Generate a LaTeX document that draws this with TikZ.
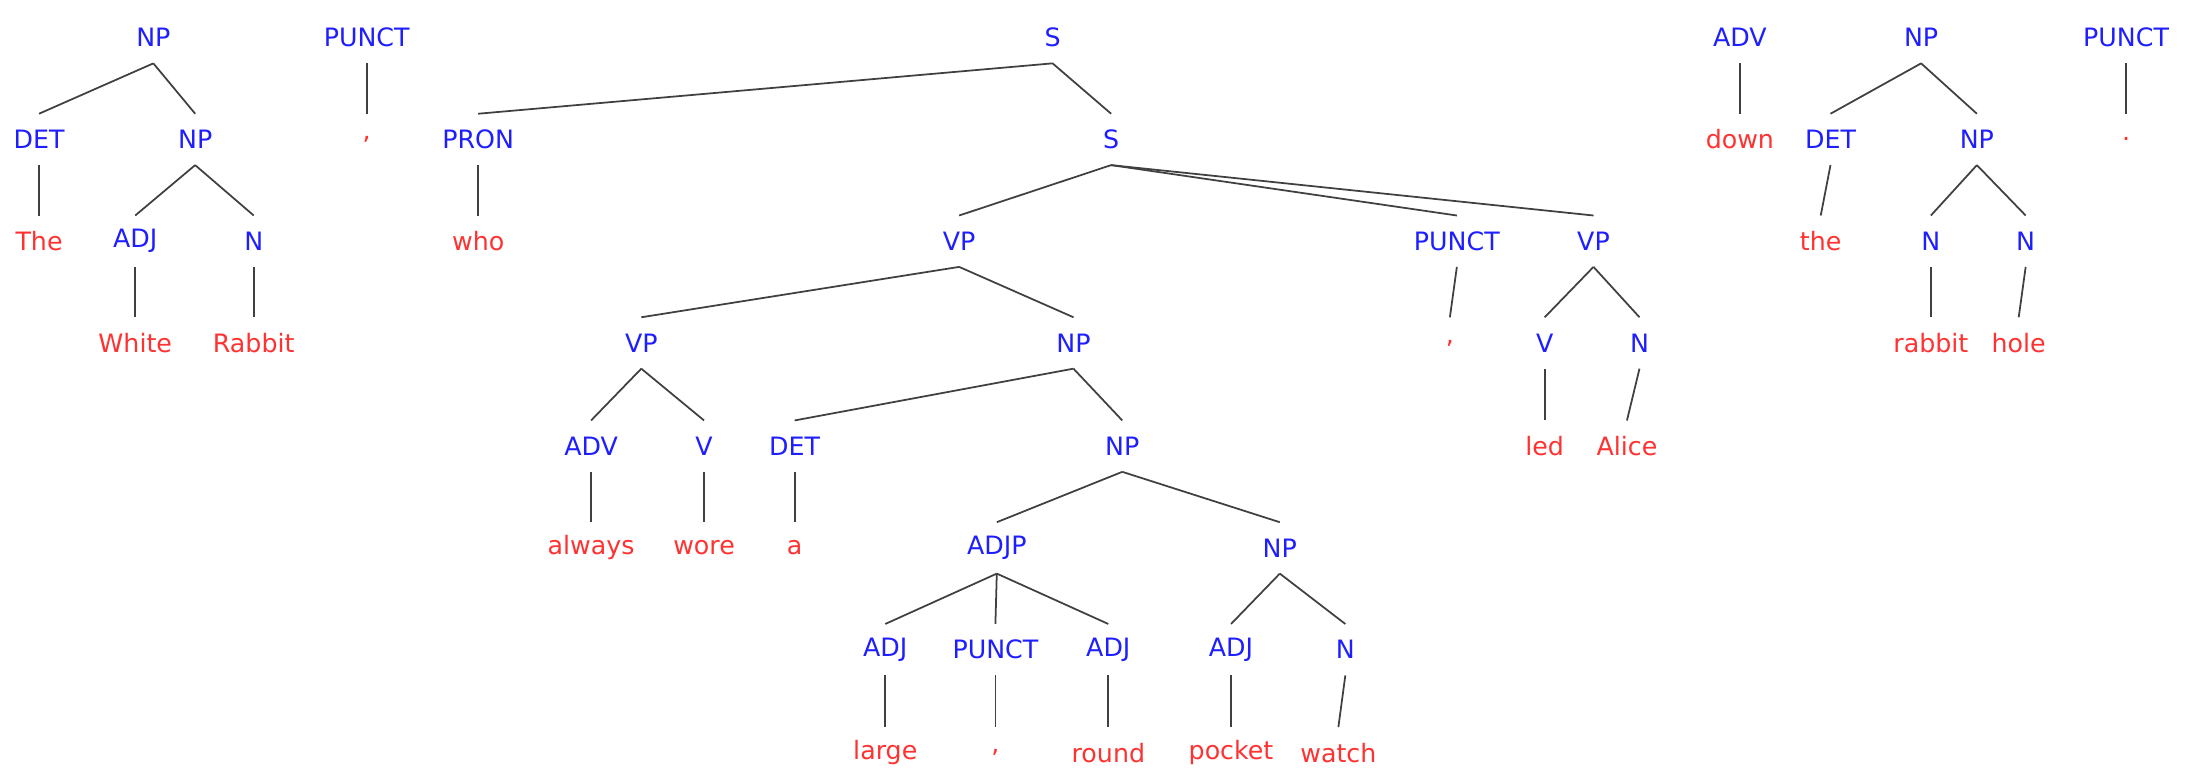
\documentclass[tikz,border=0pt]{standalone}
\usepackage{fontspec}
\setmainfont{DejaVu Sans}
\definecolor{tagblue}{RGB}{30,30,255}
\definecolor{wordred}{RGB}{255,50,50}
\begin{document}
\begin{tikzpicture}[x=0.01394cm,y=-0.01394cm,
    tag/.style={text=tagblue,font=\fontsize{7.2}{8}\selectfont,inner sep=0pt,minimum height=0.5cm},
    word/.style={text=wordred,font=\fontsize{7.2}{8}\selectfont,inner sep=0pt,minimum height=0.5cm},
    edge/.style={draw=black!75,line width=0.5pt}]
    % bounding box
    \useasboundingbox (0,0) rectangle (1568,561);
    % The White Rabbit
    \node[tag] (np1) at (110,27) {NP};
    \node[tag] (det1) at (28,100) {DET};
    \node[tag] (np2) at (140,100) {NP};
    \node[word] (the1) at (28,173) {The};
    \node[tag] (adj1) at (97,173) {ADJ};
    \node[tag] (n1) at (182,173) {N};
    \node[word] (white) at (97,246) {White};
    \node[word] (rabbit1) at (182,246) {Rabbit};
    \node[tag] (punct1) at (263,27) {PUNCT};
    \node[word] (comma1) at (263,100) {,};
    % relative clause
    \node[tag] (s1) at (755,27) {S};
    \node[tag] (pron) at (343,100) {PRON};
    \node[word] (who) at (343,173) {who};
    \node[tag] (s2) at (797,100) {S};
    \node[tag] (vp1) at (688,173) {VP};
    \node[tag] (punct2) at (1045,173) {PUNCT};
    \node[tag] (vp2) at (1143,173) {VP};
    \node[tag] (vp3) at (460,246) {VP};
    \node[tag] (np3) at (770,246) {NP};
    \node[tag] (adv1) at (424,320) {ADV};
    \node[tag] (v1) at (505,320) {V};
    \node[word] (always) at (424,393) {always};
    \node[word] (wore) at (505,393) {wore};
    \node[tag] (det2) at (570,320) {DET};
    \node[word] (a) at (570,393) {a};
    \node[tag] (np4) at (805,320) {NP};
    \node[tag] (adjp) at (715,393) {ADJP};
    \node[tag] (np5) at (918,393) {NP};
    \node[tag] (adj2) at (635,466) {ADJ};
    \node[tag] (punct3) at (714,466) {PUNCT};
    \node[tag] (adj3) at (795,466) {ADJ};
    \node[word] (large) at (635,540) {large};
    \node[word] (comma3) at (714,540) {,};
    \node[word] (round) at (795,540) {round};
    \node[tag] (adj4) at (883,466) {ADJ};
    \node[tag] (n2) at (965,466) {N};
    \node[word] (pocket) at (883,540) {pocket};
    \node[word] (watch) at (960,540) {watch};
    \node[word] (comma2) at (1040,246) {,};
    \node[tag] (v2) at (1108,246) {V};
    \node[tag] (n3) at (1176,246) {N};
    \node[word] (led) at (1108,320) {led};
    \node[word] (alice) at (1167,320) {Alice};
    % down the rabbit hole
    \node[tag] (adv2) at (1248,27) {ADV};
    \node[word] (down) at (1248,100) {down};
    \node[tag] (np6) at (1378,27) {NP};
    \node[tag] (det3) at (1313,100) {DET};
    \node[tag] (np7) at (1418,100) {NP};
    \node[word] (the2) at (1306,173) {the};
    \node[tag] (n4) at (1385,173) {N};
    \node[tag] (n5) at (1453,173) {N};
    \node[word] (rabbit2) at (1385,246) {rabbit};
    \node[word] (hole) at (1448,246) {hole};
    \node[tag] (punct4) at (1525,27) {PUNCT};
    \node[word] (dot) at (1525,100) {.};
    % branches
    \foreach \p/\c in {np1/det1,np1/np2,det1/the1,np2/adj1,np2/n1,adj1/white,n1/rabbit1,
        punct1/comma1,s1/pron,s1/s2,pron/who,s2/vp1,s2/punct2,s2/vp2,vp1/vp3,vp1/np3,
        vp3/adv1,vp3/v1,adv1/always,v1/wore,np3/det2,np3/np4,det2/a,np4/adjp,np4/np5,
        adjp/adj2,adjp/punct3,adjp/adj3,adj2/large,punct3/comma3,adj3/round,
        np5/adj4,np5/n2,adj4/pocket,n2/watch,punct2/comma2,vp2/v2,vp2/n3,v2/led,n3/alice,
        adv2/down,np6/det3,np6/np7,det3/the2,np7/n4,np7/n5,n4/rabbit2,n5/hole,punct4/dot}
        \draw[edge] (\p.south) -- (\c.north);
\end{tikzpicture}
\end{document}
